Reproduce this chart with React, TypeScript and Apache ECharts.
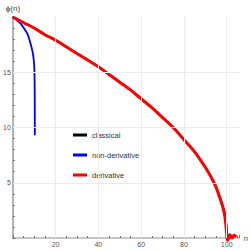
import React, { useEffect, useRef } from "react";
import * as echarts from "echarts";

const classicalN = [0, 5, 10, 15, 20, 25, 30, 35, 40, 45, 50, 55, 60, 65, 70, 75, 80, 85, 90, 93, 95, 97, 98, 99, 99.7, 100.1, 100.3];
const classicalPhi = [20, 19.5, 19.0, 18.4, 17.9, 17.3, 16.7, 16.1, 15.5, 14.8, 14.1, 13.4, 12.6, 11.8, 10.9, 10.0, 8.9, 7.8, 6.4, 5.4, 4.6, 3.6, 3.0, 2.3, 1.4, 0.5, 0];

const nonDerivN = [0, 2, 3.7, 5.5, 6.8, 8.3, 9.4, 9.8, 10.1, 10.25, 10.3];
const nonDerivPhi = [20, 19.7, 19.4, 18.9, 18.5, 17.6, 16.7, 16.1, 15.2, 13.0, 9.3];

const derivN = [0, 5, 10, 15, 20, 25, 30, 35, 40, 45, 50, 55, 60, 65, 70, 75, 80, 85, 90, 93, 95, 97, 98, 99, 99.6, 100, 100.5, 101.5, 102.5, 103.5, 104.5];
const derivPhi = [20, 19.5, 19.0, 18.4, 17.9, 17.3, 16.7, 16.1, 15.5, 14.8, 14.1, 13.4, 12.6, 11.8, 10.9, 10.0, 8.9, 7.8, 6.4, 5.4, 4.6, 3.5, 2.9, 2.1, 1.2, 0.3, -0.2, 0.3, 0.0, 0.25, 0.1];

const xGrid = [20, 40, 60, 80, 100];
const yGrid = [5, 10, 15];
const xLabels = [20, 40, 60, 80, 100];
const yLabels = [5, 10, 15];

const zip = (a: number[], b: number[]) => a.map((v, i) => [v, b[i]]);

export default function App() {
  const ref = useRef<HTMLDivElement>(null);
  useEffect(() => {
    if (!ref.current) return;
    const chart = echarts.init(ref.current, null, { renderer: "svg" });
    const axisColor = "#b3b3b3";
    const labelColor = "#555";
    chart.setOption({
      animation: false,
      textStyle: { fontFamily: "Liberation Sans, Arial, sans-serif" },
      grid: { left: 9, top: 17, right: 11, bottom: 13 },
      legend: {
        orient: "vertical",
        left: 73,
        top: 131,
        padding: 0,
        icon: "rect",
        itemWidth: 14,
        itemHeight: 3,
        itemGap: 12,
        itemStyle: { borderWidth: 0 },
        textStyle: { fontSize: 7.5, color: "#333" },
        data: ["classical", "non-derivative", "derivative"],
      },
      xAxis: {
        type: "value",
        min: 0,
        max: 106,
        interval: 20,
        name: "n",
        nameLocation: "end",
        nameGap: 4,
        nameTextStyle: { fontSize: 8, fontStyle: "italic", color: "#555" },
        axisLine: { show: true, lineStyle: { color: axisColor, width: 1.5 } },
        axisTick: { show: true, inside: true, length: 3, lineStyle: { color: "#777" } },
        minorTick: { show: true, splitNumber: 4, length: 2, lineStyle: { color: "#777" } },
        axisLabel: {
          fontSize: 7,
          color: labelColor,
          margin: 3,
          showMaxLabel: false,
          formatter: (v: number) => (xLabels.includes(v) ? String(v) : ""),
        },
        splitLine: { show: false },
      },
      yAxis: {
        type: "value",
        min: 0,
        max: 20,
        interval: 5,
        name: "ϕ(n)",
        nameLocation: "end",
        nameGap: 5,
        nameTextStyle: { fontSize: 8, color: "#444", align: "left", padding: [0, 0, 0, -7] },
        axisLine: { show: true, lineStyle: { color: axisColor, width: 2 } },
        axisTick: { show: true, inside: true, length: 3, lineStyle: { color: "#777" } },
        minorTick: { show: true, splitNumber: 5, length: 2, lineStyle: { color: "#777" } },
        axisLabel: {
          fontSize: 7,
          color: labelColor,
          margin: 2,
          formatter: (v: number) => (yLabels.includes(v) ? String(v) : ""),
        },
        splitLine: { show: false },
      },
      series: [
        {
          name: "grid",
          type: "line",
          data: [],
          silent: true,
          markLine: {
            silent: true,
            symbol: "none",
            label: { show: false },
            lineStyle: { color: "#ebebeb", width: 1, type: "solid" },
            data: [
              ...xGrid.map((v) => ({ xAxis: v })),
              ...yGrid.map((v) => ({ yAxis: v })),
            ],
          },
        },
        {
          name: "classical",
          type: "line",
          data: zip(classicalN, classicalPhi),
          showSymbol: false,
          smooth: 0.4,
          clip: false,
          itemStyle: { color: "#000" },
          lineStyle: { color: "#000", width: 2 },
        },
        {
          name: "non-derivative",
          type: "line",
          data: zip(nonDerivN, nonDerivPhi),
          showSymbol: false,
          smooth: 0.3,
          clip: false,
          itemStyle: { color: "#0000ff" },
          lineStyle: { color: "#0000ff", width: 1.8 },
        },
        {
          name: "derivative",
          type: "line",
          data: zip(derivN, derivPhi),
          showSymbol: false,
          smooth: 0.4,
          clip: false,
          itemStyle: { color: "#ff0000" },
          lineStyle: { color: "#ff0000", width: 3 },
        },
      ],
    });
    return () => chart.dispose();
  }, []);
  return <div ref={ref} style={{ width: 251, height: 251, position: "absolute", left: 0, top: 0 }} />;
}
